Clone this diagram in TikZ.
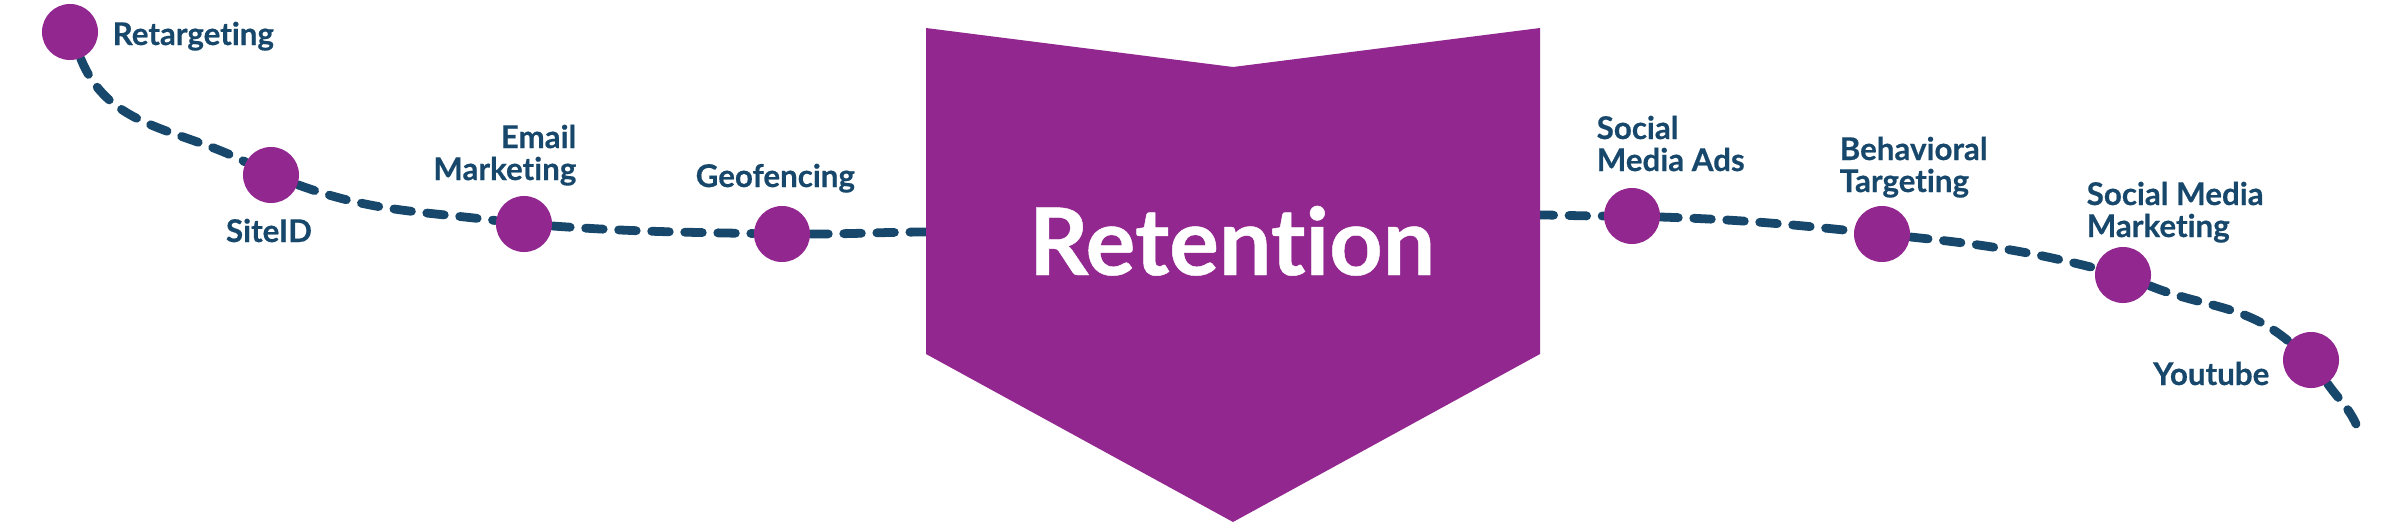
\documentclass[tikz,border=0pt]{standalone}
\usepackage{fontspec}
\setmainfont{Lato}[Ligatures={NoCommon},BoldFeatures={FakeBold=0.5}]
\usetikzlibrary{backgrounds}
\definecolor{brandpurple}{HTML}{92278F}
\definecolor{brandnavy}{HTML}{17476A}
\tikzset{
  dot/.style={circle,fill=brandpurple,draw=none,minimum size=0.56cm,inner sep=0pt},
  trail/.style={draw=brandnavy,line width=2.5pt,line cap=round,dash pattern=on 5pt off 4.4pt},
  lbl/.style={text=brandnavy,font=\bfseries\fontsize{8.9}{9.1}\selectfont,inner sep=0pt},
  biglbl/.style={text=white,font=\bfseries\fontsize{26.5}{30}\selectfont,inner sep=0pt},
}
\begin{document}
\begin{tikzpicture}[x=0.01cm,y=0.01cm]
\useasboundingbox (0,0) rectangle (2400,-524);
% chevron
\fill[brandpurple] (926,-28) -- (1233,-67) -- (1540,-28) -- (1540,-354) -- (1233,-522) -- (926,-354) -- cycle;
\coordinate (chevL) at (930,-232);
\coordinate (chevR) at (1536,-215);
\node[biglbl,anchor=base] (ret) at (1232,-275) {Retention};
% dots
\node[dot] (d1) at (70,-32) {};
\node[dot] (d2) at (271,-175) {};
\node[dot] (d3) at (524,-224) {};
\node[dot] (d4) at (782,-234) {};
\node[dot] (d5) at (1632,-216) {};
\node[dot] (d6) at (1882,-234) {};
\node[dot] (d7) at (2123,-275) {};
\node[dot] (d8) at (2311,-360) {};
\coordinate (tail) at (2356,-424);
% trail
\begin{scope}[on background layer]
\draw[trail] (d1) to[out=-68,in=153] (d2);
\draw[trail] (d2) to[out=-20,in=173] (d3);
\draw[trail] (d3) to[out=-4,in=179] (d4);
\draw[trail] (d4) to[out=0,in=180] (chevL);
\draw[trail] (chevR) to[out=0,in=180] (d5);
\draw[trail] (d5) to[out=-2,in=174] (d6);
\draw[trail] (d6) to[out=-6,in=166] (d7);
\draw[trail] (d7) to[out=-22,in=140] (d8);
\draw[trail] (d8) to[out=-55,in=115] (tail);
\end{scope}
% labels
\node[lbl,anchor=base west] (l1) at (112,-45) {Retargeting};
\node[lbl,anchor=base] (l2) at (269,-242) {SiteID};
\node[lbl,anchor=base east,align=right] (l3) at (577,-180) {Email\\Marketing};
\node[lbl,anchor=base west] (l4) at (695,-187) {Geofencing};
\node[lbl,anchor=base west,align=left] (l5) at (1596,-171) {Social\\Media Ads};
\node[lbl,anchor=base west,align=left] (l6) at (1839,-192) {Behavioral\\Targeting};
\node[lbl,anchor=base west,align=left] (l7) at (2086,-237) {Social Media\\Marketing};
\node[lbl,anchor=base east] (l8) at (2270,-385) {Youtube};
\end{tikzpicture}
\end{document}
